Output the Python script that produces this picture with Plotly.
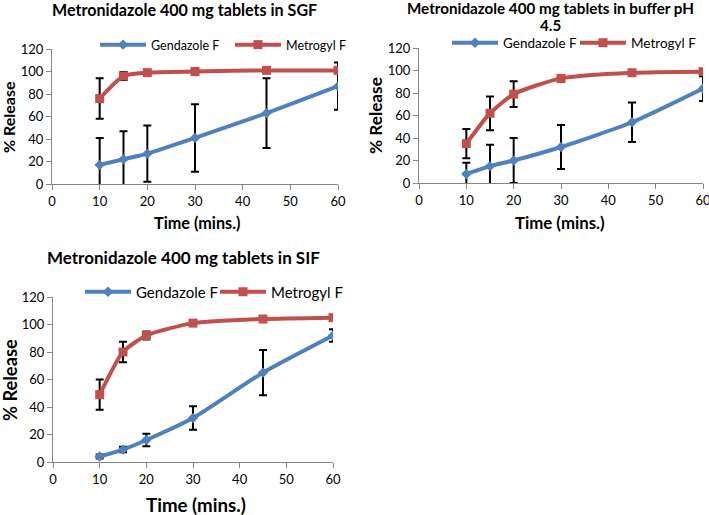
import plotly.graph_objects as go

time = [10, 15, 20, 30, 45, 60]

sgf_gen = [17, 22, 27, 41, 63, 87]
sgf_gen_err = [24, 25, 25, 30, 31, 21]
sgf_met = [76, 96, 99, 100, 101, 101]
sgf_met_err = [18, 3.5, 1, 1, 1, 1]

buf_gen = [8, 15, 20, 32, 54, 84]
buf_gen_err = [10, 19, 20, 19.5, 17.5, 11]
buf_met = [35, 62, 79, 93, 98, 99]
buf_met_err = [13, 15, 11.5, 3, 1, 1]

sif_gen = [4, 9, 16, 32, 65, 92]
sif_gen_err = [1.5, 2, 4.5, 8.5, 16.5, 4.5]
sif_met = [49, 80, 92, 101, 104, 105]
sif_met_err = [11, 7.5, 3, 2, 1.5, 1.5]

titles = [["Metronidazole 400 mg tablets in SGF"],
          ["Metronidazole 400 mg tablets in buffer pH", "4.5"],
          ["Metronidazole 400 mg tablets in SIF"]]
series_names = ["Gendazole F", "Metrogyl F"]
x_ticks = [0, 10, 20, 30, 40, 50, 60]
y_ticks = [0, 20, 40, 60, 80, 100, 120]

BLUE = "#4F81BD"
RED = "#C0504D"
FONT = "Lato, 'Open Sans', sans-serif"
W, H = 709, 515


def fx(px):
    return px / W


def fy(py):
    return 1 - py / H


panels = [
    dict(gen=sgf_gen, ge=sgf_gen_err, met=sgf_met, me=sgf_met_err,
         px=(52, 338), py=(49, 184),
         legend=(95, 45), legfs=12.5, entryw=74,
         title=[(184, 10)], tfs=16.1,
         ytitle=(9, 117), yfs=16, xtitle=(197, 222), xfs=16.2),
    dict(gen=buf_gen, ge=buf_gen_err, met=buf_met, me=buf_met_err,
         px=(419, 703), py=(48, 183),
         legend=(447, 43), legfs=13.5, entryw=67,
         title=[(550, 8), (550, 25)], tfs=15.2,
         ytitle=(375, 115), yfs=17.2, xtitle=(560, 222), xfs=16.8),
    dict(gen=sif_gen, ge=sif_gen_err, met=sif_met, me=sif_met_err,
         px=(53, 333), py=(297, 462),
         legend=(80, 292), legfs=15, entryw=74,
         title=[(183, 257)], tfs=17,
         ytitle=(10, 380), yfs=18.3, xtitle=(196, 505), xfs=18.7),
]

fig = go.Figure()
layout = {}
annotations = []

for i, p in enumerate(panels):
    n = i + 1
    sfx = "" if n == 1 else str(n)
    xa, ya = "x" + sfx, "y" + sfx
    lg = "legend" + sfx
    for name, y, e, color, sym, sz in [
        (series_names[0], p["gen"], p["ge"], BLUE, "diamond", 8),
        (series_names[1], p["met"], p["me"], RED, "square", 9),
    ]:
        fig.add_trace(go.Scatter(
            x=time, y=y, name=name, xaxis=xa, yaxis=ya, legend=lg,
            mode="lines+markers",
            line=dict(color=color, width=4, shape="spline", smoothing=0.6),
            marker=dict(color=color, symbol=sym, size=sz),
            error_y=dict(type="data", array=e, visible=True, color="black",
                         thickness=2, width=4),
        ))
    x0, x1 = p["px"]
    y0, y1 = p["py"]
    common = dict(
        ticks="outside", ticklen=5, tickcolor="#868686",
        showline=True, linecolor="#868686", linewidth=1, showgrid=False,
        zeroline=False, tickfont=dict(family=FONT, size=13, color="black"),
        fixedrange=True, automargin=False, ticklabeloverflow="allow",
    )
    layout["xaxis" + sfx] = dict(domain=[fx(x0), fx(x1)], range=[0, 60], anchor=ya,
                                 tickvals=x_ticks, **common)
    layout["yaxis" + sfx] = dict(domain=[fy(y1), fy(y0)], range=[0, 120], anchor=xa,
                                 tickvals=y_ticks, **common)
    lx, ly = p["legend"]
    layout[lg] = dict(
        orientation="h", x=fx(lx), y=fy(ly), xanchor="left", yanchor="middle",
        font=dict(family=FONT, size=p["legfs"], color="black"),
        bgcolor="rgba(0,0,0,0)", itemwidth=46, tracegroupgap=0,
        entrywidth=p["entryw"], entrywidthmode="pixels",
    )
    for line, (tx, ty) in zip(titles[i], p["title"]):
        annotations.append(dict(text="<b>" + line + "</b>", x=fx(tx), y=fy(ty),
                                xref="paper", yref="paper", showarrow=False,
                                xanchor="center", yanchor="middle",
                                font=dict(family=FONT, size=p["tfs"], color="black")))
    yx, yy = p["ytitle"]
    annotations.append(dict(text="<b>% Release</b>", x=fx(yx), y=fy(yy),
                            xref="paper", yref="paper", showarrow=False, textangle=-90,
                            xanchor="center", yanchor="middle",
                            font=dict(family=FONT, size=p["yfs"], color="black")))
    xx, xy = p["xtitle"]
    annotations.append(dict(text="<b>Time (mins.)</b>", x=fx(xx), y=fy(xy),
                            xref="paper", yref="paper", showarrow=False,
                            xanchor="center", yanchor="middle",
                            font=dict(family=FONT, size=p["xfs"], color="black")))

fig.update_layout(
    width=W, height=H, margin=dict(l=0, r=0, t=0, b=0, autoexpand=False),
    paper_bgcolor="white", plot_bgcolor="white",
    annotations=annotations, **layout,
)
fig.write_html(
    "out.html",
    config={"displayModeBar": False},
    post_script="document.body.style.margin='0px';document.body.style.overflow='hidden';",
)
